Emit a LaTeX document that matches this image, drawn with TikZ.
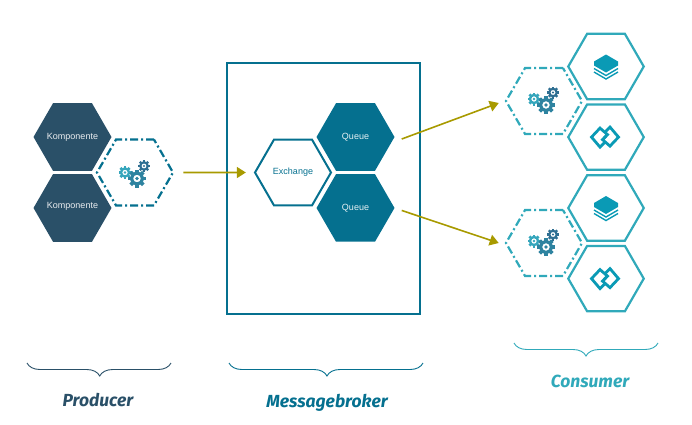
\documentclass[tikz,border=0pt]{standalone}
\usepackage{fontspec}
\setmainfont{Liberation Sans}
\newfontfamily\handfont{Fira Sans}
\usepackage{xcolor}
\usepackage{tikz}
\usetikzlibrary{arrows.meta,positioning,shapes.geometric,decorations.pathreplacing,calc}
\definecolor{cProd}{HTML}{2A5068}
\definecolor{cBroker}{HTML}{05708F}
\definecolor{cCons}{HTML}{30A9BA}
\definecolor{cArrow}{HTML}{A89A00}
\definecolor{cIcon}{HTML}{0A9AB5}
\definecolor{cGearA}{HTML}{35A6BC}
\definecolor{cGearB}{HTML}{2E83A0}
\definecolor{cGearC}{HTML}{2F6F92}
\newcommand{\gearwheel}[4]{% x, y, radius, colour
  \foreach \a in {0,45,...,315}
    \fill[#4, shift={(#1,#2)}, rotate=\a] (-.2*#3,.7*#3) rectangle (.2*#3,#3);
  \draw[#4, line width=.36*#3 pt] (#1,#2) circle[radius=.62*#3];
  \fill[#4] (#1,#2) circle[radius=.2*#3];
}

\begin{document}
\begin{tikzpicture}[
    x=1pt, y=-1pt,
    >=Stealth,
    hexa/.style={regular polygon, regular polygon sides=6,
                 minimum size=78pt, inner sep=-8pt, font=\fontsize{9}{11}\selectfont},
    komp/.style={hexa, fill=cProd, text=white!90!cProd},
    queue/.style={hexa, fill=cBroker, text=white!90!cBroker},
    exch/.style={hexa, draw=cBroker, line width=2pt, minimum size=76pt, text=cBroker},
    svc/.style={hexa, draw=cCons, line width=2.2pt, minimum size=75.5pt},
    gearhex/.style={hexa, draw=#1, line width=2.2pt, minimum size=76pt, dash pattern=on 8pt off 3pt on 2pt off 3pt},
    flow/.style={draw=cArrow, line width=1.6pt, arrows={-Triangle[length=9pt,width=11pt]}},
    brace/.style={decorate, decoration={brace, amplitude=13pt, aspect=#1}, line width=.9pt},
    hand/.style={font=\handfont\bfseries\itshape\fontsize{17.5}{20}\selectfont},
    gears/.pic={
      \gearwheel{-10}{0}{6.5}{cGearA}
      \gearwheel{9}{-6.5}{6}{cGearC}
      \gearwheel{2}{6}{9}{cGearB}
    },
    layers/.pic={
      \fill[cIcon] (-12,-5) -- (0,-12) -- (12,-5) -- (12,-1) -- (0,6) -- (-12,-1) -- cycle;
      \draw[cIcon, line width=1.4pt] (-12,2) -- (0,9) -- (12,2);
      \draw[cIcon, line width=1.4pt] (-12,5.5) -- (0,12.5) -- (12,5.5);
    },
    links/.pic={
      \draw[cIcon, line width=2.8pt] (-.5,5.5) -- (-5,10) -- (-13.5,0) -- (-5,-9) -- (2.5,-2.5) -- (-1,1);
      \draw[cIcon, line width=2.8pt] (.5,-5.5) -- (5,-10) -- (13.5,0) -- (5,9) -- (-2.5,2.5) -- (1,-1);
    }
]
\useasboundingbox (0,0) rectangle (692,424);

% --- producer ---
\node[komp] (komp1) at (72.5,137) {Komponente};
\node[komp, below=3pt of komp1] (komp2) {\raisebox{5.5pt}{Komponente}};
\node[gearhex=cBroker] (gearp) at (135,172.5) {};
\pic at (gearp.center) {gears};

% --- broker ---
\node[draw=cBroker, line width=2pt, minimum width=193pt, minimum height=251pt, inner sep=0pt] (broker) at (323.7,188.5) {};
\node[exch] (exchange) at (293,172.5) {Exchange};
\node[queue] (queue1) at (355.5,137) {Queue};
\node[queue, below=3pt of queue1] (queue2) {Queue};

% --- consumer ---
\node[gearhex=cCons] (gearc1) at (544,101) {};
\node[gearhex=cCons] (gearc2) at (544,243) {};
\node[svc] (store1) at (606,66.5) {};
\node[svc, below=3pt of store1] (link1) {};
\node[svc] (store2) at (606,208) {};
\node[svc, below=3pt of store2] (link2) {};
\pic at ([yshift=2pt]gearc1.center) {gears};
\pic at ([yshift=2pt]gearc2.center) {gears};
\pic at (store1.center) {layers};
\pic at (store2.center) {layers};
\pic at ([xshift=-1pt]link1.center) {links};
\pic at ([xshift=-1pt]link2.center) {links};

% --- arrows ---
\draw[flow, shorten <=9pt, shorten >=8pt] (gearp.east) -- (exchange.west);
\draw[flow] ([shift={(7pt,-2pt)}]queue1.east) -- ([shift={(-6pt,-2pt)}]gearc1.west);
\draw[flow] ([shift={(7pt,-2.5pt)}]queue2.east) -- ([shift={(-6pt,0pt)}]gearc2.west);

% --- labels ---
\coordinate (b1l) at (27,363);
\coordinate (b1r) at (171,363);
\coordinate (b2l) at (229,363);
\coordinate (b2r) at (423,363);
\coordinate (b3l) at (514,343);
\coordinate (b3r) at (658,343);
\draw[brace=.495, cProd] (b1r) -- (b1l);
\draw[brace=.495, cBroker] (b2r) -- (b2l);
\draw[brace=.5, cCons] (b3r) -- (b3l);
\node[hand, text=cProd] (producer) at (98,400) {Producer};
\node[hand, text=cBroker] (messagebroker) at (327,403) {Messagebroker};
\node[hand, text=cCons] (consumer) at (590,381) {Consumer};

\end{tikzpicture}
\end{document}
